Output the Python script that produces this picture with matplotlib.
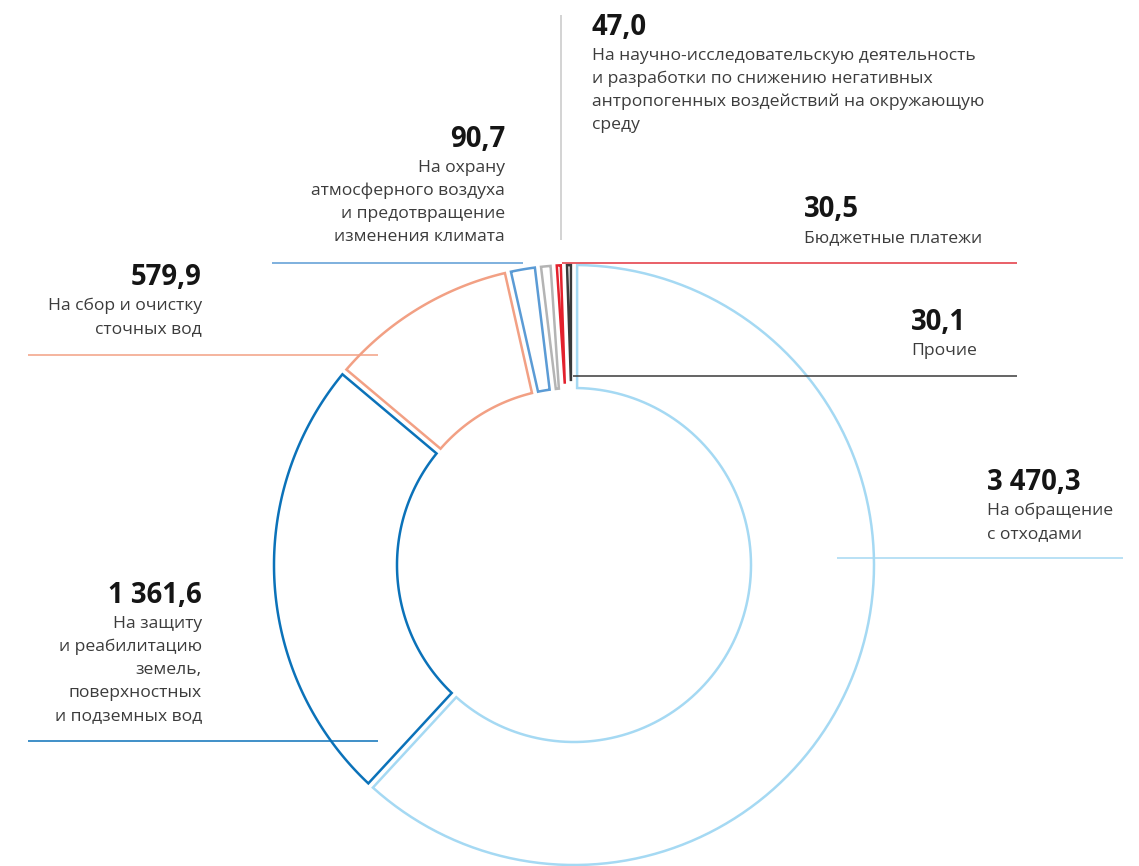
import numpy as np
import matplotlib.pyplot as plt
from matplotlib.patches import Polygon

plt.rcParams['font.family'] = ['Open Sans', 'DejaVu Sans']

# spending by direction, clockwise from 12 o'clock
categories = [
    ["На обращение", "с отходами"],
    ["На защиту", "и реабилитацию", "земель,", "поверхностных", "и подземных вод"],
    ["На сбор и очистку", "сточных вод"],
    ["На охрану", "атмосферного воздуха", "и предотвращение", "изменения климата"],
    ["На научно-исследовательскую деятельность", "и разработки по снижению негативных",
     "антропогенных воздействий на окружающую", "среду"],
    ["Бюджетные платежи"],
    ["Прочие"],
]
values = [3470.3, 1361.6, 579.9, 90.7, 47.0, 30.5, 30.1]
colors = ["#a5d9f3", "#0b72b9", "#f2a084", "#5b9bd5", "#b4b4b4", "#e3212d", "#3a3a3a"]
leader_colors = ["#a5d9f3", "#0b72b9", "#f2a084", "#5b9bd5", "#c8c8c8", "#e3343f", "#3a3a3a"]

# label layout (pixel coords): x, value baseline, alignment
label_pos = [(987, 490, "left"), (202, 603, "right"), (202, 285, "right"),
             (505, 147, "right"), (592, 35, "left"), (804, 217, "left"), (911, 330, "left")]
leaders = [((837, 1123), (558, 558)), ((28, 378), (741, 741)), ((28, 378), (355, 355)),
           ((272, 523), (263, 263)), ((561, 561), (15, 240)), ((562, 1017), (263, 263)),
           ((573, 1017), (376, 376))]

cx, cy = 574, 565
r_out, r_in = 300, 177
gap = 3.1


def sector(t1, t2):
    # ring sector between angles t1 > t2 (degrees), edges pulled in by a constant gap
    a1, a2 = np.radians(t1), np.radians(t2)
    half = (a1 - a2) / 2
    do = np.arcsin(gap / r_out)
    di = np.arcsin(gap / r_in)
    th = np.linspace(a1 - do, a2 + do, 120)
    pts = [(cx + r_out * np.cos(t), cy - r_out * np.sin(t)) for t in th]
    if half > di:
        th = np.linspace(a2 + di, a1 - di, 120)
        pts += [(cx + r_in * np.cos(t), cy - r_in * np.sin(t)) for t in th]
    else:
        rho = gap / np.sin(half)
        mid = (a1 + a2) / 2
        pts.append((cx + rho * np.cos(mid), cy - rho * np.sin(mid)))
    return pts


def fmt(v):
    return f"{v:,.1f}".replace(",", " ").replace(".", ",")


fig = plt.figure(figsize=(11.39, 8.66), dpi=100)
ax = fig.add_axes([0, 0, 1, 1])
ax.set_xlim(0, 1139)
ax.set_ylim(866, 0)
ax.axis("off")

total = sum(values)
cum = np.concatenate([[0], np.cumsum(values)]) / total
for i, v in enumerate(values):
    t1 = 90 - 360 * cum[i]
    t2 = 90 - 360 * cum[i + 1]
    ax.add_patch(Polygon(sector(t1, t2), closed=True, facecolor="none",
                         edgecolor=colors[i], linewidth=1.8, joinstyle="miter"))

for i, (xs, ys) in enumerate(leaders):
    ax.plot(xs, ys, color=leader_colors[i], linewidth=1.1, solid_capstyle="butt")

for i, v in enumerate(values):
    x, y, ha = label_pos[i]
    ax.text(x, y, fmt(v), ha=ha, va="baseline", fontsize=19.8,
            fontweight="bold", color="#151515")
    for j, line in enumerate(categories[i]):
        ax.text(x, y + 25 + 23 * j, line, ha=ha, va="baseline",
                fontsize=12.6, color="#3c3c3c")

fig.savefig("out.png", dpi=100)
